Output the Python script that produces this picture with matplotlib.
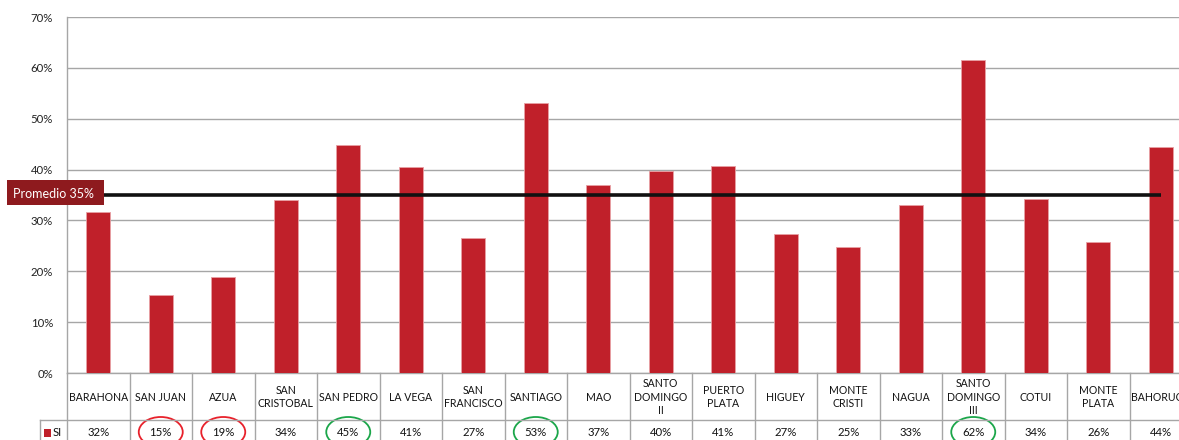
import matplotlib
matplotlib.use("Agg")
import matplotlib.pyplot as plt
from matplotlib.patches import Ellipse, Rectangle
from matplotlib.transforms import blended_transform_factory

categories = ["BARAHONA", "SAN JUAN", "AZUA", "SAN\nCRISTOBAL", "SAN PEDRO", "LA VEGA",
              "SAN\nFRANCISCO", "SANTIAGO", "MAO", "SANTO\nDOMINGO\nII", "PUERTO\nPLATA",
              "HIGUEY", "MONTE\nCRISTI", "NAGUA", "SANTO\nDOMINGO\nIII", "COTUI",
              "MONTE\nPLATA", "BAHORUCO"]
si_values = [31.7, 15.3, 18.9, 34.0, 44.8, 40.5, 26.5, 53.1, 37.0, 39.7, 40.7, 27.3,
             24.8, 33.0, 61.5, 34.2, 25.8, 44.4]
table_labels = ["32%", "15%", "19%", "34%", "45%", "41%", "27%", "53%", "37%", "40%",
                "41%", "27%", "25%", "33%", "62%", "34%", "26%", "44%"]
promedio = 35.0
red_circled = [1, 2]
green_circled = [4, 7, 14]
yticks = [0, 10, 20, 30, 40, 50, 60, 70]

plt.rcParams['font.family'] = ['Lato', 'DejaVu Sans']

W, H = 1179, 440
fig = plt.figure(figsize=(W / 100, H / 100), dpi=100)
x0, ytop, ybot = 67, 17, 373
colw = 62.5
n = len(categories)
ax = fig.add_axes([x0 / W, 1 - ybot / H, n * colw / W, (ybot - ytop) / H])

bar_color = "#C0202A"
grid_color = "#A6A6A6"
xs = list(range(n))
ax.bar(xs, si_values, width=0.39, color=bar_color, edgecolor="#E8A0A4", linewidth=0.6, zorder=3)
ax.hlines(promedio, xs[0], xs[-1], color="#111111", linewidth=2.6, zorder=4)

ax.set_xlim(-0.5, n - 0.5)
ax.set_ylim(0, 70)
ax.set_yticks(yticks)
ax.set_yticklabels([f"{t}%" for t in yticks], fontsize=8.2, color="#222222")
ax.tick_params(axis='y', length=0, pad=10)
ax.set_xticks([])
ax.yaxis.grid(True, color=grid_color, linewidth=1.0, zorder=0)
for s in ["top", "right"]:
    ax.spines[s].set_visible(False)
for s in ["left", "bottom"]:
    ax.spines[s].set_color(grid_color)
    ax.spines[s].set_linewidth(1.0)

tr = blended_transform_factory(ax.transData, ax.transAxes)
ph = ybot - ytop
def fy(py):
    return (ybot - py) / ph

row_split = fy(420)
bottom_y = fy(460)
# table grid
for i in range(n + 1):
    ax.plot([i - 0.5, i - 0.5], [0, bottom_y], transform=tr, color=grid_color,
            linewidth=1.0, clip_on=False)
legend_left = -0.5 - 27 / colw
ax.plot([legend_left, n - 0.5], [row_split, row_split], transform=tr, color=grid_color,
        linewidth=1.0, clip_on=False)
ax.plot([legend_left, legend_left], [row_split, bottom_y], transform=tr, color=grid_color,
        linewidth=1.0, clip_on=False)

for i, (lab, val) in enumerate(zip(categories, table_labels)):
    ax.text(i, fy(397), lab, transform=tr, ha="center", va="center", fontsize=7.6,
            color="#111111", linespacing=1.3, clip_on=False)
    ax.text(i, fy(432), val, transform=tr, ha="center", va="center", fontsize=8.2,
            color="#111111", clip_on=False)

for idx in red_circled + green_circled:
    col = "#E8212B" if idx in red_circled else "#1BA64A"
    e = Ellipse((idx, fy(432)), width=44 / colw, height=30 / ph, transform=tr,
                fill=False, edgecolor=col, linewidth=1.3, clip_on=False)
    ax.add_patch(e)

# legend cell
fig.patches.append(Rectangle((44 / W, 1 - 437 / H), 7 / W, 8 / H, transform=fig.transFigure,
                             facecolor=bar_color, edgecolor="none"))
fig.text(53 / W, 1 - 432 / H, "SI", fontsize=8.2, va="center", ha="left", color="#111111")

# promedio label
fig.patches.append(Rectangle((7 / W, 1 - 205 / H), 97 / W, 25 / H, transform=fig.transFigure,
                             facecolor="#8E1A1E", edgecolor="none", zorder=5))
fig.text(13 / W, 1 - 194.5 / H, "Promedio 35%", fontsize=9, va="center", ha="left",
         color="white", zorder=6)

fig.savefig("out.png", dpi=100)
